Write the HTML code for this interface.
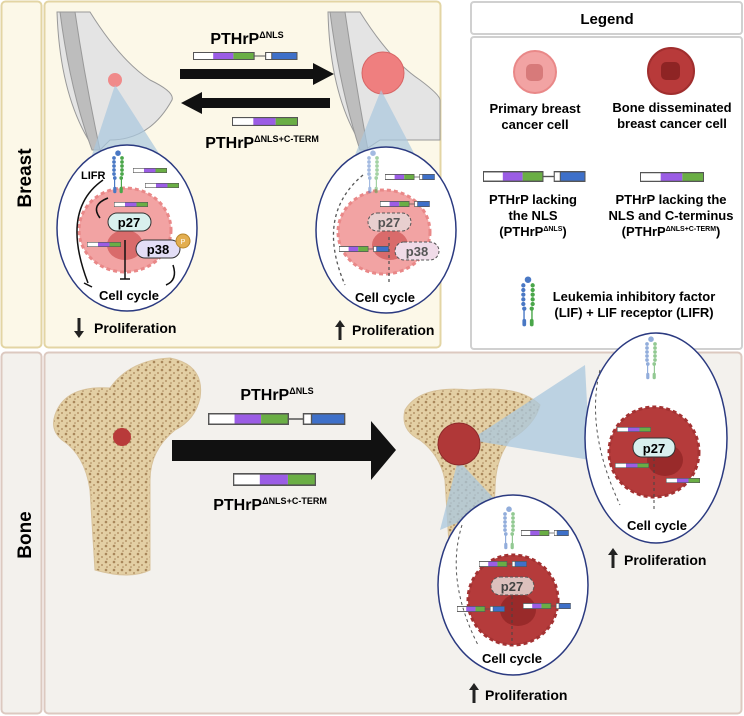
<!DOCTYPE html>
<html><head><meta charset="utf-8"><style>
body{margin:0;background:#fff;}
svg{display:block;font-family:"Liberation Sans",Arial,sans-serif;}
</style></head><body>
<svg width="744" height="716" viewBox="0 0 744 716" xmlns="http://www.w3.org/2000/svg">
<defs>
<symbol id="bA" viewBox="0 0 104 8" preserveAspectRatio="none">
<rect x="0.5" y="0.5" width="60" height="7" fill="#fff" stroke="#555"/>
<rect x="20" y="0.5" width="20" height="7" fill="#9b5de5"/>
<rect x="40" y="0.5" width="20.5" height="7" fill="#6aae45"/>
<rect x="0.5" y="0.5" width="60" height="7" fill="none" stroke="#555"/>
<line x1="60" y1="4" x2="72" y2="4" stroke="#555"/>
<rect x="72" y="0.5" width="31" height="7" fill="#3e70c9" stroke="#555"/>
<rect x="72" y="0.5" width="6" height="7" fill="#fff" stroke="#555"/>
</symbol>
<symbol id="bB" viewBox="0 0 65 8" preserveAspectRatio="none">
<rect x="0.5" y="0.5" width="21" height="7" fill="#fff"/>
<rect x="21" y="0.5" width="22" height="7" fill="#9b5de5"/>
<rect x="43" y="0.5" width="21.5" height="7" fill="#6aae45"/>
<rect x="0.5" y="0.5" width="64" height="7" fill="none" stroke="#555"/>
</symbol>
<symbol id="rec" viewBox="0 0 20 60">
<circle cx="10" cy="4" r="3.5" fill="#4a78c4"/>
<g fill="#4a78c4"><circle cx="5" cy="10" r="2.3"/><circle cx="5" cy="15" r="2.3"/><circle cx="5" cy="20" r="2.3"/><circle cx="5" cy="25" r="2.3"/><circle cx="5" cy="30" r="2.3"/><circle cx="6" cy="35" r="2.3"/><rect x="5" y="36" width="1.5" height="14"/><rect x="4" y="46" width="4" height="8" rx="2"/></g>
<g fill="#4aa64a"><circle cx="15" cy="10" r="2.3"/><circle cx="15" cy="15" r="2.3"/><circle cx="15" cy="20" r="2.3"/><circle cx="15" cy="25" r="2.3"/><circle cx="15" cy="30" r="2.3"/><circle cx="14" cy="35" r="2.3"/><rect x="13.5" y="36" width="1.5" height="14"/><rect x="12" y="46" width="4" height="8" rx="2"/></g>
</symbol>
<symbol id="up" viewBox="0 0 10 20"><polygon points="5,0 10,7 6.5,7 6.5,20 3.5,20 3.5,7 0,7" fill="#222"/></symbol>
<symbol id="dn" viewBox="0 0 10 20"><polygon points="5,20 10,13 6.5,13 6.5,0 3.5,0 3.5,13 0,13" fill="#222"/></symbol>
<pattern id="bonep" width="8" height="8" patternUnits="userSpaceOnUse">
<rect width="8" height="8" fill="#e3cfa4"/><circle cx="2" cy="2" r="1.3" fill="#a8865a"/><circle cx="6" cy="5" r="1" fill="#b59468"/><circle cx="3" cy="7" r="0.8" fill="#a8865a"/>
</pattern>
</defs>

<rect x="1.5" y="1.5" width="40" height="346" rx="4" fill="#fcf8e8" stroke="#e3d5a4" stroke-width="2"/>
<rect x="44.5" y="1.5" width="396" height="346" rx="4" fill="#fcf8e8" stroke="#e3d5a4" stroke-width="2"/>
<rect x="471" y="2" width="271" height="32" rx="3" fill="#fff" stroke="#d0d0d0" stroke-width="2"/>
<rect x="471" y="37" width="271" height="312" rx="3" fill="#fff" stroke="#d0d0d0" stroke-width="2"/>
<rect x="1.5" y="352.5" width="40" height="361" rx="4" fill="#f3f1ed" stroke="#dcc9c0" stroke-width="2"/>
<rect x="44.5" y="352.5" width="697" height="361" rx="4" fill="#f3f1ed" stroke="#dcc9c0" stroke-width="2"/>

<text transform="translate(31,178) rotate(-90)" text-anchor="middle" font-size="19" font-weight="bold">Breast</text>
<text transform="translate(31,535) rotate(-90)" text-anchor="middle" font-size="19" font-weight="bold">Bone</text>

<g fill="#cfcfcf" stroke="#999" stroke-width="1">
<path d="M57,12 L90,12 Q120,60 150,80 Q175,92 172,100 Q150,140 110,140 L100,150 L95,150 Q60,100 57,12Z" fill="#e4e4e4"/>
<path d="M60,12 L75,12 Q85,80 100,150 L92,150 Q70,90 60,12Z" fill="#bdbdbd"/>
<path d="M328,12 L360,12 Q390,60 420,80 Q440,95 440,100 L440,140 Q410,140 380,140 L365,150 Q330,100 328,12Z" fill="#e4e4e4"/>
<path d="M330,12 L345,12 Q355,80 368,150 L360,150 Q340,90 330,12Z" fill="#bdbdbd"/>
</g>
<circle cx="115" cy="80" r="7" fill="#f08a8a"/>
<circle cx="383" cy="73" r="21" fill="#ef7f7f" stroke="#d86565"/>
<polygon points="115,85 92,155 160,155" fill="#a9c7de" opacity="0.7"/>
<polygon points="381,90 355,155 415,155" fill="#a9c7de" opacity="0.7"/>

<text x="247" y="44" text-anchor="middle" font-size="16" font-weight="bold">PTHrP<tspan font-size="9" dy="-6">ΔNLS</tspan></text>
<use href="#bA" x="193" y="52" width="105" height="8"/>
<polygon points="180,69 313,69 313,63 334,74 313,85 313,79 180,79" fill="#111"/>
<polygon points="181,103 202,92 202,98 330,98 330,108 202,108 202,114 181,103" fill="#111"/>
<use href="#bB" x="232" y="117" width="66" height="9"/>
<text x="262" y="148" text-anchor="middle" font-size="16" font-weight="bold">PTHrP<tspan font-size="9" dy="-6">ΔNLS+C-TERM</tspan></text>

<ellipse cx="127" cy="228" rx="70" ry="83" fill="#fff" stroke="#2b3a80" stroke-width="1.5"/>
<ellipse cx="125" cy="230" rx="46" ry="42" fill="#f2a3a3" stroke="#e98888" stroke-width="3" stroke-dasharray="4 3"/>
<ellipse cx="125" cy="245" rx="18" ry="15" fill="#d96b6b"/>
<use href="#rec" x="110" y="150" width="16" height="48"/>
<text x="81" y="179" font-size="11" font-weight="bold">LIFR</text>
<use href="#bB" x="133" y="168" width="34" height="5"/>
<use href="#bB" x="145" y="183" width="34" height="5"/>
<use href="#bB" x="114" y="202" width="34" height="5"/>
<use href="#bB" x="87" y="242" width="34" height="5"/>
<rect x="108" y="213" width="43" height="18" rx="9" fill="#d9f0ee" stroke="#333"/>
<text x="129" y="227" text-anchor="middle" font-size="13" font-weight="bold">p27</text>
<rect x="136" y="240" width="44" height="18" rx="9" fill="#e3def6" stroke="#333"/>
<text x="158" y="254" text-anchor="middle" font-size="13" font-weight="bold">p38</text>
<circle cx="183" cy="241" r="7" fill="#e3ae4f" stroke="#b8862b"/>
<text x="183" y="244" text-anchor="middle" font-size="7" fill="#fff">P</text>
<path d="M103,180 Q60,210 88,283" fill="none" stroke="#111" stroke-width="1.5"/>
<line x1="84" y1="283" x2="92" y2="287" stroke="#111" stroke-width="1.5"/>
<path d="M108,198 Q90,205 100,218" fill="none" stroke="#111" stroke-width="1.5"/>
<line x1="125" y1="240" x2="125" y2="279" stroke="#111" stroke-width="1.5"/>
<line x1="120" y1="279" x2="130" y2="279" stroke="#111" stroke-width="1.5"/>
<path d="M173,265 Q178,280 166,285" fill="none" stroke="#111" stroke-width="1.5"/>
<text x="129" y="300" text-anchor="middle" font-size="13" font-weight="bold">Cell cycle</text>
<use href="#dn" x="74" y="318" width="10" height="20"/>
<text x="94" y="333" font-size="14" font-weight="bold">Proliferation</text>

<ellipse cx="386" cy="230" rx="70" ry="83" fill="#fff" stroke="#2b3a80" stroke-width="1.5"/>
<ellipse cx="384" cy="232" rx="46" ry="42" fill="#f2a3a3" stroke="#e98888" stroke-width="3" stroke-dasharray="4 3"/>
<ellipse cx="390" cy="245" rx="18" ry="15" fill="#d96b6b"/>
<use href="#rec" x="365" y="150" width="16" height="48" opacity="0.5"/>
<use href="#bA" x="385" y="174" width="50" height="6"/>
<use href="#bA" x="380" y="201" width="50" height="6"/>
<use href="#bA" x="339" y="246" width="50" height="6"/>
<rect x="368" y="213" width="43" height="18" rx="9" fill="#e8cfcf" stroke="#555" stroke-dasharray="3 2"/>
<text x="389" y="227" text-anchor="middle" font-size="13" font-weight="bold" fill="#555">p27</text>
<rect x="395" y="242" width="44" height="18" rx="9" fill="#f0dbe8" stroke="#555" stroke-dasharray="3 2"/>
<text x="417" y="256" text-anchor="middle" font-size="13" font-weight="bold" fill="#555">p38</text>
<path d="M363,175 Q315,215 345,285" fill="none" stroke="#555" stroke-width="1.3" stroke-dasharray="3 3"/>
<line x1="389" y1="237" x2="389" y2="285" stroke="#555" stroke-width="1.3" stroke-dasharray="3 3"/>
<text x="385" y="302" text-anchor="middle" font-size="13" font-weight="bold">Cell cycle</text>
<use href="#up" x="335" y="320" width="10" height="20"/>
<text x="352" y="335" font-size="14" font-weight="bold">Proliferation</text>

<text x="607" y="24" text-anchor="middle" font-size="15" font-weight="bold">Legend</text>
<circle cx="535" cy="72" r="21" fill="#f2a3a3" stroke="#e98888" stroke-width="2"/>
<rect x="526" y="64" width="17" height="17" rx="5" fill="#d77a7a"/>
<circle cx="671" cy="71" r="23" fill="#b83a3a" stroke="#a02e2e" stroke-width="2"/>
<rect x="661" y="62" width="19" height="18" rx="5" fill="#8e2424"/>
<g font-size="13" font-weight="bold" text-anchor="middle">
<text x="535" y="113">Primary breast</text>
<text x="535" y="129">cancer cell</text>
<text x="672" y="112">Bone disseminated</text>
<text x="672" y="128">breast cancer cell</text>
<text x="533" y="204">PTHrP lacking</text>
<text x="533" y="220">the NLS</text>
<text x="533" y="236">(PTHrP<tspan font-size="7" dy="-5">ΔNLS</tspan><tspan dy="5">)</tspan></text>
<text x="671" y="204">PTHrP lacking the</text>
<text x="671" y="220">NLS and C-terminus</text>
<text x="671" y="236">(PTHrP<tspan font-size="7" dy="-5">ΔNLS+C-TERM</tspan><tspan dy="5">)</tspan></text>
<text x="634" y="301">Leukemia inhibitory factor</text>
<text x="634" y="317">(LIF) + LIF receptor (LIFR)</text>
</g>
<use href="#bA" x="483" y="171" width="103" height="11"/>
<use href="#bB" x="640" y="172" width="64" height="10"/>
<use href="#rec" x="518" y="276" width="20" height="56"/>

<path d="M55,415 Q65,385 110,388 Q130,360 170,358 Q205,365 200,398 Q195,420 175,430 Q150,450 150,480 L150,570 Q130,580 95,570 L90,490 Q85,455 62,440 Q50,430 55,415Z" fill="url(#bonep)" stroke="#d8c29a"/>
<circle cx="122" cy="437" r="9" fill="#b83a3a"/>
<text x="277" y="400" text-anchor="middle" font-size="16" font-weight="bold">PTHrP<tspan font-size="9" dy="-6">ΔNLS</tspan></text>
<use href="#bA" x="208" y="413" width="138" height="12"/>
<polygon points="172,440 371,440 371,421 396,450 371,480 371,461 172,461" fill="#111"/>
<use href="#bB" x="233" y="473" width="83" height="13"/>
<text x="270" y="510" text-anchor="middle" font-size="16" font-weight="bold">PTHrP<tspan font-size="9" dy="-6">ΔNLS+C-TERM</tspan></text>

<path d="M405,410 Q420,385 470,390 Q520,385 540,405 Q535,425 510,440 Q495,460 495,490 L490,560 Q470,570 450,560 L445,480 Q440,455 420,440 Q400,430 405,410Z" fill="url(#bonep)" stroke="#d8c29a"/>
<polygon points="470,440 585,365 590,460" fill="#a9c7de" opacity="0.75"/>
<polygon points="458,460 440,530 500,505" fill="#a9c7de" opacity="0.75"/>
<circle cx="459" cy="444" r="21" fill="#b03838" stroke="#8e2a2a"/>

<ellipse cx="656" cy="438" rx="71" ry="105" fill="#fff" stroke="#2b3a80" stroke-width="1.5"/>
<ellipse cx="654" cy="452" rx="45" ry="45" fill="#b53b3b" stroke="#a33232" stroke-width="3" stroke-dasharray="4 3"/>
<ellipse cx="665" cy="460" rx="18" ry="16" fill="#992a2a"/>
<use href="#rec" x="643" y="335" width="16" height="50" opacity="0.6"/>
<use href="#bB" x="617" y="427" width="34" height="5"/>
<use href="#bB" x="615" y="463" width="34" height="5"/>
<use href="#bB" x="666" y="478" width="34" height="5"/>
<rect x="633" y="438" width="42" height="19" rx="9" fill="#d9f0ee" stroke="#333"/>
<text x="654" y="453" text-anchor="middle" font-size="13" font-weight="bold">p27</text>
<line x1="654" y1="458" x2="654" y2="510" stroke="#444" stroke-dasharray="3 3"/>
<path d="M600,370 Q585,430 620,505" fill="none" stroke="#555" stroke-dasharray="3 3"/>
<text x="657" y="530" text-anchor="middle" font-size="13" font-weight="bold">Cell cycle</text>
<use href="#up" x="608" y="548" width="10" height="20"/>
<text x="624" y="565" font-size="14" font-weight="bold">Proliferation</text>

<ellipse cx="513" cy="585" rx="75" ry="90" fill="#fff" stroke="#2b3a80" stroke-width="1.5"/>
<ellipse cx="513" cy="600" rx="45" ry="45" fill="#b53b3b" stroke="#a33232" stroke-width="3" stroke-dasharray="4 3"/>
<ellipse cx="518" cy="610" rx="18" ry="16" fill="#992a2a"/>
<use href="#rec" x="501" y="505" width="16" height="50" opacity="0.6"/>
<use href="#bA" x="521" y="530" width="48" height="6"/>
<use href="#bA" x="479" y="561" width="48" height="6"/>
<use href="#bA" x="457" y="606" width="48" height="6"/>
<use href="#bA" x="523" y="603" width="48" height="6"/>
<rect x="491" y="577" width="43" height="18" rx="9" fill="#dcc0bd" stroke="#555" stroke-dasharray="3 2"/>
<text x="512" y="591" text-anchor="middle" font-size="13" font-weight="bold" fill="#444">p27</text>
<line x1="512" y1="596" x2="512" y2="645" stroke="#444" stroke-dasharray="3 3"/>
<path d="M462,525 Q445,580 478,645" fill="none" stroke="#555" stroke-dasharray="3 3"/>
<text x="512" y="663" text-anchor="middle" font-size="13" font-weight="bold">Cell cycle</text>
<use href="#up" x="469" y="683" width="10" height="20"/>
<text x="485" y="700" font-size="14" font-weight="bold">Proliferation</text>
</svg>
</body></html>
